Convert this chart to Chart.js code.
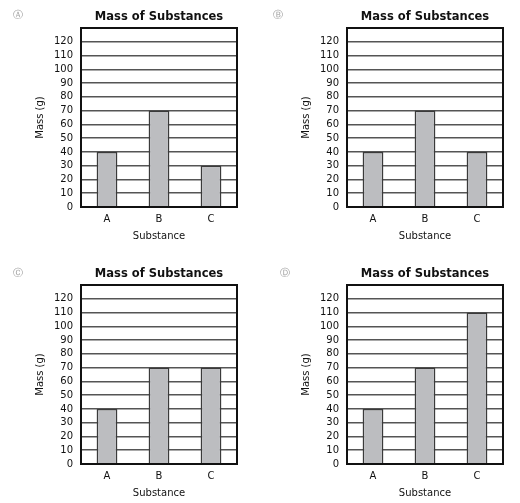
<!DOCTYPE html>
<html>
<head>
<meta charset="utf-8">
<script src="https://cdn.jsdelivr.net/npm/chart.js"></script>
<style>
  body { margin: 0; background: #fff; }
  canvas { position: absolute; }
</style>
</head>
<body>
<canvas id="chartA" width="260" height="250" style="left:0px;top:0px"></canvas>
<canvas id="chartB" width="260" height="250" style="left:266px;top:0px"></canvas>
<canvas id="chartC" width="260" height="250" style="left:0px;top:257px"></canvas>
<canvas id="chartD" width="260" height="250" style="left:266px;top:257px"></canvas>
<script>
// data
const substances = ['A', 'B', 'C'];
const massA = [40, 70, 30];
const massB = [40, 70, 40];
const massC = [40, 70, 70];
const massD = [40, 70, 110];
const chartTitle = 'Mass of Substances';
const yAxisLabel = 'Mass (g)';
const xAxisLabel = 'Substance';
const yMax = 130;      // top of the box, no label there
const yStep = 10;

// title, circled option letter and the black box round the plot
const framePlugin = {
  id: 'frame',
  afterDatasetsDraw(chart, args, opts) {
    const ctx = chart.ctx;
    const area = chart.chartArea;
    ctx.save();
    ctx.strokeStyle = '#111';
    ctx.lineWidth = 2;
    ctx.strokeRect(area.left, area.top, area.right - area.left, area.bottom - area.top);

    ctx.fillStyle = '#111';
    ctx.font = 'bold 11.5px "DejaVu Sans"';
    ctx.textAlign = 'center';
    ctx.textBaseline = 'middle';
    ctx.fillText(chartTitle, (area.left + area.right) / 2, 17);

    ctx.fillStyle = '#9a9a9a';
    ctx.font = '10px "DejaVu Sans"';
    ctx.fillText(opts.letter, opts.letterX, opts.letterY);
    ctx.restore();
  }
};

function createMassChart(id, values, letter, letterX, letterY) {
  const ctx = document.getElementById(id).getContext('2d');

  new Chart(ctx, {
    type: 'bar',
    data: {
      labels: substances,
      datasets: [{
        data: values,
        backgroundColor: '#bcbdc0',
        borderColor: '#3a3a3a',
        borderWidth: 1.5,
        barPercentage: 0.8,
        categoryPercentage: 0.5,
      }],
    },
    options: {
      responsive: false,
      animation: false,
      devicePixelRatio: 1,
      layout: { padding: { left: 30, right: 23, top: 28, bottom: 0 } },
      plugins: {
        legend: { display: false },
        tooltip: { enabled: false },
        frame: { letter: letter, letterX: letterX, letterY: letterY },
      },
      scales: {
        x: {
          grid: { display: false, drawTicks: false },
          border: { display: false },
          ticks: { color: '#111', font: { family: 'DejaVu Sans', size: 10 }, padding: 6 },
          title: {
            display: true,
            text: xAxisLabel,
            color: '#111',
            font: { family: 'DejaVu Sans', size: 10 },
            padding: { top: 0, bottom: 8 },
          },
          afterFit(scale) { scale.height = 43; },
        },
        y: {
          min: 0,
          max: yMax,
          grid: { color: '#555', lineWidth: 1.6, drawTicks: false },
          border: { display: false },
          ticks: {
            stepSize: yStep,
            autoSkip: false,
            color: '#111',
            font: { family: 'DejaVu Sans', size: 10, lineHeight: 1 },
            padding: 8,
            callback: (v) => (v === yMax ? '' : v),
          },
          title: {
            display: true,
            text: yAxisLabel,
            color: '#111',
            font: { family: 'DejaVu Sans', size: 10 },
            padding: { top: 4, bottom: 0 },
          },
          afterFit(scale) { scale.width = 51; },
        },
      },
    },
    plugins: [framePlugin],
  });
}

createMassChart('chartA', massA, '\u24B6', 18, 15);
createMassChart('chartB', massB, '\u24B7', 12, 15);
createMassChart('chartC', massC, '\u24B8', 18, 16);
createMassChart('chartD', massD, '\u24B9', 19, 16);
</script>
</body>
</html>
